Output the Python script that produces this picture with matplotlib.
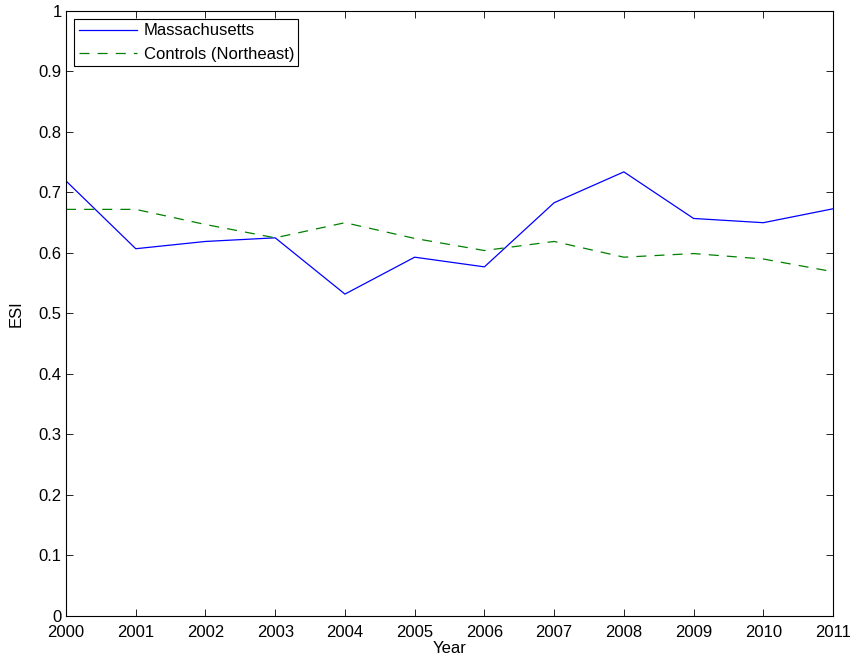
import matplotlib
matplotlib.use('Agg')
import matplotlib.pyplot as plt

plt.rcParams['font.family'] = ['Liberation Sans', 'DejaVu Sans']

years = [2000, 2001, 2002, 2003, 2004, 2005, 2006, 2007, 2008, 2009, 2010, 2011]
esi_mass = [0.719, 0.607, 0.619, 0.625, 0.532, 0.593, 0.577, 0.683, 0.734, 0.657, 0.650, 0.673]
esi_controls = [0.672, 0.672, 0.647, 0.625, 0.650, 0.624, 0.604, 0.619, 0.593, 0.599, 0.590, 0.569]

fig = plt.figure(figsize=(8.53, 6.62), dpi=100)
ax = fig.add_axes([0.0774, 0.0695, 0.8992, 0.914])

ax.plot(years, esi_mass, color='#0000ff', linewidth=0.9, label='Massachusetts')
ax.plot(years, esi_controls, color='#008000', linewidth=0.9, linestyle=(0, (8, 6.5)),
        label='Controls (Northeast)')

ax.set_xlim(2000, 2011)
ax.set_ylim(0, 1)
ax.set_xticks(years)
ax.set_yticks([i / 10 for i in range(11)])
ax.set_yticklabels(['0'] + ['%.1f' % (i / 10) for i in range(1, 10)] + ['1'])
ax.tick_params(direction='in', top=True, right=True, labelsize=12, length=5, width=0.6)
ax.tick_params(axis='x', pad=6.5)
ax.tick_params(axis='y', pad=3)
for sp in ax.spines.values():
    sp.set_linewidth(0.8)

ax.set_xlabel('Year', fontsize=12, labelpad=1)
ax.set_ylabel('ESI', fontsize=12, labelpad=11)

leg = ax.legend(loc='upper left', fontsize=12, fancybox=False, framealpha=1,
                edgecolor='black', handlelength=3.5, borderpad=0.25, labelspacing=0.5,
                borderaxespad=0.5, handletextpad=0.4)
leg.get_frame().set_linewidth(0.8)

fig.savefig('out.png', dpi=100)
